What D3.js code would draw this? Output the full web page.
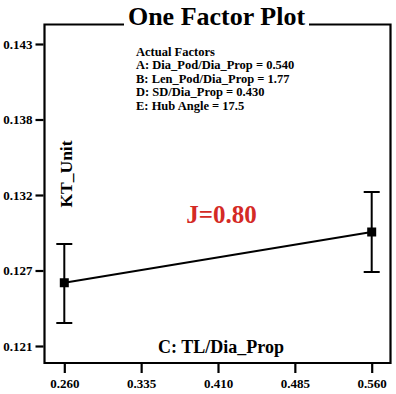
<!DOCTYPE html>
<html><head><meta charset="utf-8">
<script src="https://cdn.jsdelivr.net/npm/d3@7"></script>
<style>body{margin:0;background:#fff}svg{display:block}text,tspan{font-family:"Liberation Serif","Times New Roman",serif;font-weight:700}</style>
</head><body>
<script>
const xLevels = [0.260, 0.560];
const yMean = [0.12585, 0.12958];
const yLower = [0.12289, 0.12664];
const yUpper = [0.12870, 0.13252];
const xTickValues = [0.260, 0.335, 0.410, 0.485, 0.560];
const xTickLabels = ["0.260", "0.335", "0.410", "0.485", "0.560"];
const yTickValues = [0.1212, 0.12675, 0.1323, 0.13785, 0.1434];
const yTickLabels = ["0.121", "0.127", "0.132", "0.138", "0.143"];
const factorLines = ["Actual Factors", "A: Dia_Pod/Dia_Prop = 0.540", "B: Len_Pod/Dia_Prop = 1.77", "D: SD/Dia_Prop = 0.430", "E: Hub Angle = 17.5"];

const W = 396, H = 394;
const L = 44.5, R = 390.5, T = 24.5, B = 363;
const svg = d3.select("body").append("svg").attr("width", W).attr("height", H);

const x = d3.scaleLinear().domain([0.260, 0.560]).range([64.3, 371.7]);
const y = d3.scaleLinear().domain([0.1212, 0.1434]).range([346, 44]);

// frame
const titleL = 124, titleR = 309;
svg.append("path")
  .attr("d", `M${titleL},${T}H${L}V${B}H${R}V${T}H${titleR}`)
  .attr("fill", "none").attr("stroke", "#000").attr("stroke-width", 2.2);

// title
svg.append("text").attr("x", 216.5).attr("y", 25).attr("text-anchor", "middle")
  .attr("font-size", 26).attr("font-weight", 700).text("One Factor Plot");

// y axis
const yAxis = d3.axisLeft(y).tickValues(yTickValues).tickSize(8).tickPadding(3)
  .tickFormat((d, i) => yTickLabels[i]);
const gy = svg.append("g").attr("transform", `translate(${L - 1},0)`).call(yAxis);
gy.select(".domain").remove();
gy.selectAll("line").attr("stroke-width", 2.2);
gy.selectAll("text").attr("font-size", 13).attr("font-family", "Liberation Serif, serif").attr("font-weight", 700);

// x axis
const xAxis = d3.axisBottom(x).tickValues(xTickValues).tickSize(9).tickPadding(6)
  .tickFormat((d, i) => xTickLabels[i]);
const gx = svg.append("g").attr("transform", `translate(0,${B + 1})`).call(xAxis);
gx.select(".domain").remove();
gx.selectAll("line").attr("stroke-width", 2.2);
gx.selectAll("text").attr("font-size", 13).attr("font-family", "Liberation Serif, serif").attr("font-weight", 700);

// axis titles
svg.append("text").attr("transform", "translate(72,174) rotate(-90)").attr("text-anchor", "middle")
  .attr("font-size", 17.5).attr("font-weight", 700).text("KT_Unit");
svg.append("text").attr("x", 221).attr("y", 353).attr("text-anchor", "middle")
  .attr("font-size", 18).attr("font-weight", 700).text("C: TL/Dia_Prop");

// factor annotation
factorLines.forEach((s, i) => {
  svg.append("text").attr("x", 136).attr("y", 56 + i * 13.4)
    .attr("font-size", 12.5).attr("font-weight", 700).text(s);
});

// J label
svg.append("text").attr("x", 221.5).attr("y", 223).attr("text-anchor", "middle")
  .attr("font-size", 25).attr("font-weight", 700).attr("fill", "#d42a25").text("J=0.80");

// line
const pts = xLevels.map((v, i) => [x(v), y(yMean[i])]);
svg.append("path").attr("d", d3.line()(pts)).attr("stroke", "#000").attr("stroke-width", 2).attr("fill", "none");

// error bars
xLevels.forEach((v, i) => {
  const cx = x(v);
  const g = svg.append("g").attr("stroke", "#000").attr("stroke-width", 2);
  g.append("line").attr("x1", cx).attr("x2", cx).attr("y1", y(yLower[i])).attr("y2", y(yUpper[i]));
  g.append("line").attr("x1", cx - 8).attr("x2", cx + 8).attr("y1", y(yUpper[i])).attr("y2", y(yUpper[i]));
  g.append("line").attr("x1", cx - 8).attr("x2", cx + 8).attr("y1", y(yLower[i])).attr("y2", y(yLower[i]));
  svg.append("rect").attr("x", cx - 4.5).attr("y", y(yMean[i]) - 4.5).attr("width", 9).attr("height", 9).attr("fill", "#000");
});
</script>
</body></html>
